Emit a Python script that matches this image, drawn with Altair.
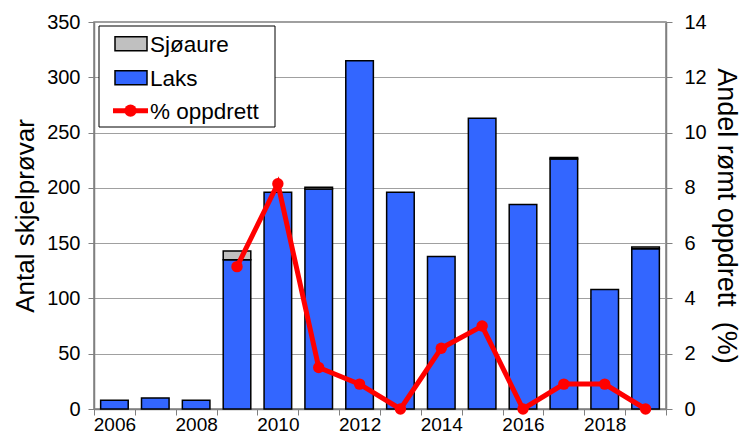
import altair as alt
import pandas as pd

years = list(range(2006, 2020))
laks = [8, 10, 8, 135, 196, 199, 315, 196, 138, 263, 185, 226, 108, 145]
sjoaure = [0, 0, 0, 8, 0, 1.5, 0, 0, 0, 0, 0, 1.5, 0, 1.5]
pct_years = list(range(2009, 2020))
pct = [5.15, 8.15, 1.5, 0.9, 0.0, 2.2, 3.0, 0.0, 0.9, 0.9, 0.0]

series_names = ["Sjøaure", "Laks", "% oppdrett"]
series_colors = ["#C0C0C0", "#3366FF", "#FF0000"]

rows = []
for y, l, s in zip(years, laks, sjoaure):
    if l > 0:
        rows.append({"year": y, "series": "Laks", "value": l, "ord": 0})
    if s > 0:
        rows.append({"year": y, "series": "Sjøaure", "value": s, "ord": 1})
bars_df = pd.DataFrame(rows)
pct_df = pd.DataFrame({"year": pct_years, "pct": pct, "series": "% oppdrett"})

FONT = "Liberation Sans"

color = alt.Color(
    "series:N",
    scale=alt.Scale(domain=series_names, range=series_colors),
    legend=None,
)

x_enc = alt.X(
    "year:O",
    scale=alt.Scale(domain=years, paddingInner=0, paddingOuter=0),
    axis=alt.Axis(
        title=None,
        labelAngle=0,
        labelExpr="datum.value % 2 == 0 ? datum.label : ''",
        tickBand="extent",
        labelPadding=0,
        labelFontSize=19,
    ),
)

bars = alt.Chart(bars_df).mark_bar(
    width={"band": 0.675}, stroke="black", strokeWidth=1.5, opacity=1
).encode(
    x=x_enc,
    y=alt.Y(
        "value:Q",
        stack="zero",
        scale=alt.Scale(domain=[0, 350], nice=False),
        axis=alt.Axis(
            values=list(range(0, 351, 50)),
            title="Antal skjelprøvar",
            titleFontSize=26,
            grid=True,
            titlePadding=8,
        ),
    ),
    color=color,
    order=alt.Order("ord:Q", sort="ascending"),
)

line = alt.Chart(pct_df).mark_line(
    strokeWidth=5,
    point={"filled": True, "size": 130, "opacity": 1},
).encode(
    x=x_enc,
    y=alt.Y(
        "pct:Q",
        scale=alt.Scale(domain=[0, 14], nice=False),
        axis=alt.Axis(
            orient="right",
            values=list(range(0, 15, 2)),
            title="Andel rømt oppdrett\u00a0 (%)",
            titleFontSize=27,
            grid=False,
            labelPadding=12,
            titlePadding=5,
        ),
    ),
    color=color,
)

# ---- manual legend (pixel layout inside the plot area) ----
lg_df = pd.DataFrame({"label": series_names})
box = alt.Chart(lg_df.head(1)).mark_rect(
    fill="white", stroke="black", strokeWidth=1
).encode(x=alt.value(5), x2=alt.value(181), y=alt.value(4), y2=alt.value(105))

row_y = [21.7, 55.7, 88.7]
legend_layers = [box]
for i, (name, col) in enumerate(zip(series_names, series_colors)):
    d = pd.DataFrame({"label": [name]})
    cy = row_y[i]
    if i < 2:
        legend_layers.append(
            alt.Chart(d).mark_rect(fill=col, stroke="black", strokeWidth=1.5).encode(
                x=alt.value(21), x2=alt.value(53), y=alt.value(cy - 7), y2=alt.value(cy + 7)
            )
        )
    else:
        legend_layers.append(
            alt.Chart(d).mark_rule(color=col, strokeWidth=5).encode(
                x=alt.value(19), x2=alt.value(54), y=alt.value(cy)
            )
        )
        legend_layers.append(
            alt.Chart(d).mark_point(filled=True, color=col, size=150, opacity=1, shape="circle").encode(
                x=alt.value(36.5), y=alt.value(cy)
            )
        )
    legend_layers.append(
        alt.Chart(d).mark_text(
            align="left", baseline="middle", font=FONT, fontSize=22.5, color="black"
        ).encode(x=alt.value(56), y=alt.value(cy + 1), text="label:N")
    )

chart = alt.layer(bars, line, *legend_layers).resolve_scale(y="independent").properties(
    width=572,
    height=387,
    padding={"left": 86, "top": 14, "right": 76, "bottom": 26},
    autosize=alt.AutoSizeParams(type="none"),
).configure_axis(
    labelFont=FONT,
    labelFontSize=20,
    labelColor="black",
    titleFont=FONT,
    titleFontSize=27,
    titleFontWeight="normal",
    titleColor="black",
    domainColor="#808080",
    domainWidth=1.5,
    tickColor="#808080",
    tickSize=6,
    gridColor="#a0a0a0",
    gridWidth=1,
    labelPadding=8,
).configure_view(stroke="#808080", strokeWidth=1.5)

chart.save("out.html", embed_options={"renderer": "svg", "actions": False})
